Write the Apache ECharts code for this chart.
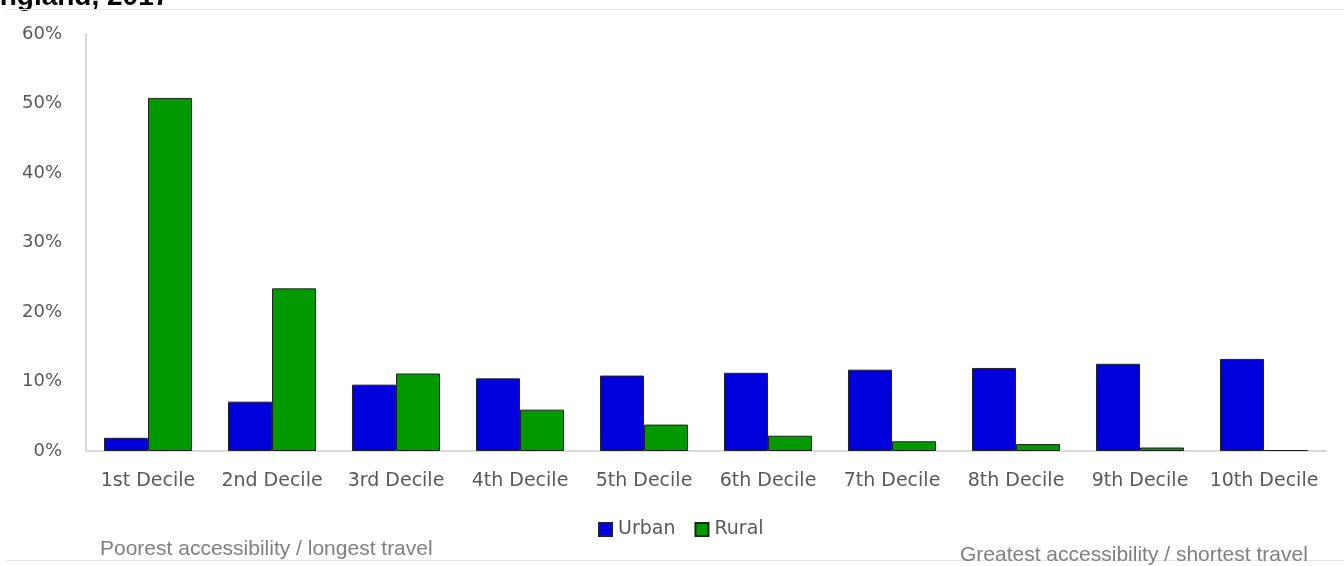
<!DOCTYPE html>
<html><head><meta charset="utf-8">
<script src="https://cdn.jsdelivr.net/npm/echarts@6/dist/echarts.min.js"></script>
<style>html,body{margin:0;padding:0;background:#fff}#c{width:1344px;height:566px}</style>
</head><body><div id="c"></div>
<script>
const categories = ['1st Decile','2nd Decile','3rd Decile','4th Decile','5th Decile','6th Decile','7th Decile','8th Decile','9th Decile','10th Decile'];
const urban = [1.9, 7.1, 9.55, 10.45, 10.85, 11.25, 11.7, 11.95, 12.55, 13.25];
const rural = [50.8, 23.4, 11.15, 5.95, 3.8, 2.2, 1.4, 1.0, 0.5, 0.15];
const yTicks = [0, 10, 20, 30, 40, 50, 60];

const chart = echarts.init(document.getElementById('c'));
chart.setOption({
  animation: false,
  backgroundColor: '#fff',
  grid: {left: 86, right: 18, top: 34, bottom: 115},
  legend: {
    data: ['Urban', 'Rural'], left: 593, top: 515,
    itemWidth: 13, itemHeight: 13, itemGap: 19,
    icon: 'rect',
    textStyle: {fontFamily: 'DejaVu Sans', fontSize: 19, color: '#595959', padding: [0,0,0,1]}
  },
  xAxis: {
    type: 'category', data: categories,
    axisLine: {lineStyle: {color: '#d9d9d9', width: 2}},
    axisTick: {show: false},
    axisLabel: {interval: 0, fontFamily: 'DejaVu Sans', fontSize: 19, color: '#595959', margin: 21}
  },
  yAxis: {
    type: 'value', min: 0, max: 60, interval: 10,
    axisLine: {show: true, lineStyle: {color: '#d9d9d9', width: 2}},
    axisTick: {show: false},
    splitLine: {show: false},
    axisLabel: {fontFamily: 'DejaVu Sans', fontSize: 18, color: '#595959', margin: 24,
      formatter: v => yTicks.includes(v) ? v + '%' : ''}
  },
  series: [
    {name: 'Urban', type: 'bar', data: urban, barGap: '0%', barCategoryGap: '29%',
     itemStyle: {color: '#0000dd', borderColor: '#222', borderWidth: 1}},
    {name: 'Rural', type: 'bar', data: rural,
     itemStyle: {color: '#009900', borderColor: '#222', borderWidth: 1}}
  ],
  graphic: [
    {type: 'text', left: -19, top: -17, style: {text: 'England, 2017', font: 'bold 28px "Liberation Sans", Arial', fill: '#000'}},
    {type: 'line', shape: {x1: 6, y1: 9.5, x2: 1344, y2: 9.5}, style: {stroke: '#e6e6e6', lineWidth: 1}},
    {type: 'line', shape: {x1: 6, y1: 560.5, x2: 1344, y2: 560.5}, style: {stroke: '#e6e6e6', lineWidth: 1}},
    {type: 'text', left: 100, top: 539, style: {text: 'Poorest accessibility / longest travel', font: '21px "Liberation Sans", Arial', fill: '#808080'}},
    {type: 'text', left: 960, top: 545, style: {text: 'Greatest accessibility / shortest travel', font: '21px "Liberation Sans", Arial', fill: '#808080'}}
  ]
});
</script></body></html>
